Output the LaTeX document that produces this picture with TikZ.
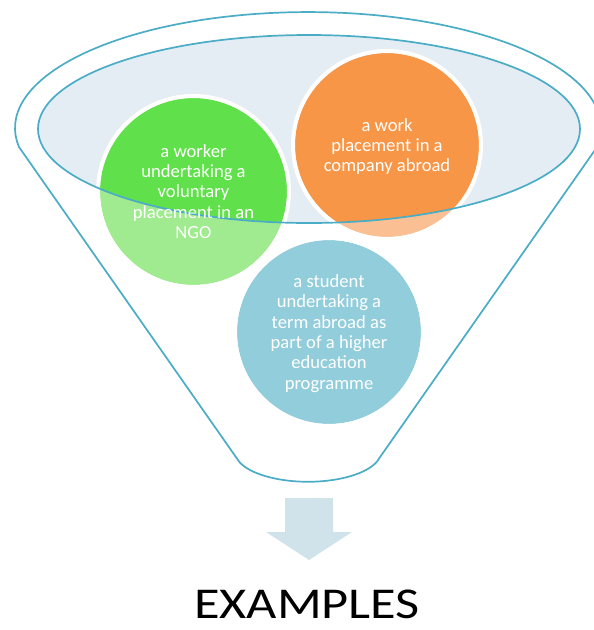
\documentclass[tikz,border=0pt]{standalone}
\usepackage{fontspec}
\setmainfont{Carlito}
\newfontfamily\widefont[FakeStretch=1.19]{Carlito}
\definecolor{funnelline}{RGB}{75,172,198}
\definecolor{rimfill}{RGB}{228,237,243}
\definecolor{greenfull}{RGB}{96,224,74}
\definecolor{greenpale}{RGB}{160,234,143}
\definecolor{orangefull}{RGB}{247,150,70}
\definecolor{orangepale}{RGB}{250,192,148}
\definecolor{studentblue}{RGB}{146,205,220}
\definecolor{pointerfill}{RGB}{209,227,234}
\tikzset{
  funnel/.style={draw=funnelline, line width=1.7pt},
  ring/.style={draw=white, line width=4pt},
  bubbletext/.style={text=white, align=center, font=\fontsize{18.6}{20.3}\selectfont},
}
\begin{document}
\begin{tikzpicture}[x=1pt,y=-1pt]
\useasboundingbox (0,0) rectangle (594,630);

\draw[funnel] (19,147) arc[start angle=170.6, end angle=369.4, x radius=293, y radius=116]
  -- (379.4,458) arc[start angle=12, end angle=168, x radius=73, y radius=30] -- cycle;
\fill[rimfill] (309,129) ellipse[x radius=271, y radius=94];

\fill[greenpale] (193.5,191.5) circle[radius=93.5];
\fill[orangepale] (387,145) circle[radius=92];
\fill[studentblue] (329,332) circle[radius=92];
\begin{scope}
  \clip (309,129) ellipse[x radius=271, y radius=94];
  \fill[greenfull] (193.5,191.5) circle[radius=93.5];
  \fill[orangefull] (387,145) circle[radius=92];
\end{scope}
\draw[ring] (193.5,191.5) circle[radius=95.5];
\draw[ring] (387,145) circle[radius=94];
\draw[ring] (329,332) circle[radius=94];
\draw[funnel] (309,129) ellipse[x radius=271, y radius=94];

\node[bubbletext] (worker) at (193.5,191.5) {a worker\\undertaking a\\voluntary\\placement in an\\NGO};
\node[bubbletext] (work) at (387,146.5) {a work\\placement in a\\company abroad};
\node[bubbletext] (student) at (329,333.5) {a student\\undertaking a\\term abroad as\\part of a higher\\education\\programme};

\fill[pointerfill] (285,498) -- (333,498) -- (333,532) -- (352,532) -- (309,560)
  -- (266,532) -- (285,532) -- cycle;
\node[anchor=base, font=\widefont\fontsize{44}{52}\selectfont] (examples) at (307,618) {EXAMPLES};
\end{tikzpicture}
\end{document}
